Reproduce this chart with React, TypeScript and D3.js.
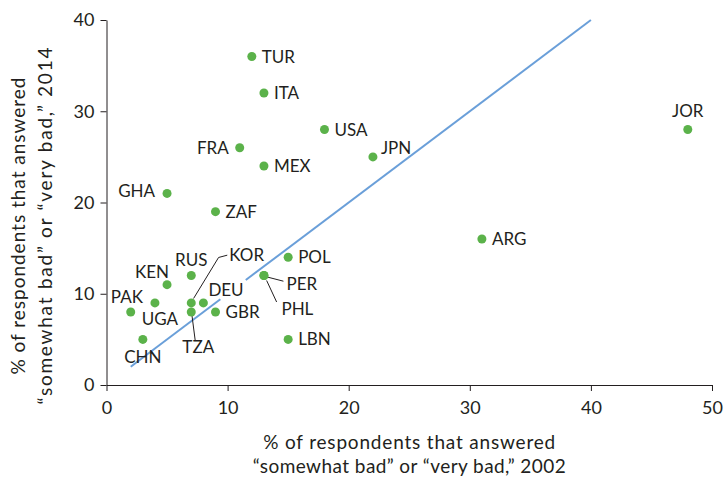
import { useRef, useEffect } from 'react';
import * as d3 from 'd3';

// share answering "somewhat bad" or "very bad" (%)
const COUNTRIES = ['TUR', 'ITA', 'USA', 'FRA', 'JPN', 'MEX', 'GHA', 'ZAF', 'JOR', 'ARG', 'POL', 'LBN', 'CHN', 'UGA', 'PAK', 'KEN', 'RUS', 'KOR', 'DEU', 'TZA', 'GBR', 'PER', 'PHL'];
const Y2002 = [12, 13, 18, 11, 22, 13, 5, 9, 48, 31, 15, 15, 3, 2, 4, 5, 7, 7, 8, 7, 9, 13, 13];
const Y2014 = [36, 32, 28, 26, 25, 24, 21, 19, 28, 16, 14, 5, 5, 8, 9, 11, 12, 9, 9, 8, 8, 12, 12];

const X_TICKS = [0, 10, 20, 30, 40, 50];
const Y_TICKS = [0, 10, 20, 30, 40];

// 45-degree reference line, broken where labels sit
const REF_SEGMENTS: [number, number][] = [[2, 9.4], [11.5, 40]];

const X_TITLE = ['% of respondents that answered', '“somewhat bad” or “very bad,” 2002'];
const Y_TITLE = ['% of respondents that answered', '“somewhat bad” or “very bad,” 2014'];

// label placement (pixel offsets from the dot) and optional leader lines
const LABEL_POS: Record<string, { dx: number; dy: number; anchor: string; leader?: [number, number][] }> = {
  TUR: { dx: 10, dy: 0, anchor: 'start' },
  ITA: { dx: 10, dy: 0, anchor: 'start' },
  USA: { dx: 10, dy: 0, anchor: 'start' },
  FRA: { dx: -11, dy: 0, anchor: 'end' },
  JPN: { dx: 8, dy: -9, anchor: 'start' },
  MEX: { dx: 10, dy: 0, anchor: 'start' },
  GHA: { dx: -12, dy: -2, anchor: 'end' },
  ZAF: { dx: 10, dy: 0, anchor: 'start' },
  JOR: { dx: 0, dy: -19, anchor: 'middle' },
  ARG: { dx: 10, dy: 0, anchor: 'start' },
  POL: { dx: 10, dy: 0, anchor: 'start' },
  LBN: { dx: 10, dy: 0, anchor: 'start' },
  CHN: { dx: 0, dy: 18, anchor: 'middle' },
  UGA: { dx: 11, dy: 7, anchor: 'start' },
  PAK: { dx: -12, dy: -6, anchor: 'end' },
  KEN: { dx: 2, dy: -13, anchor: 'end' },
  RUS: { dx: 0, dy: -16, anchor: 'middle' },
  KOR: { dx: 38, dy: -48, anchor: 'start', leader: [[2.3, -4.4], [27.3, -45.4], [36, -47.7]] },
  DEU: { dx: 5, dy: -13, anchor: 'start' },
  TZA: { dx: 7, dy: 35, anchor: 'middle', leader: [[0.7, 3.5], [4, 29]] },
  GBR: { dx: 10, dy: 0, anchor: 'start' },
  PER: { dx: 22.5, dy: 8.5, anchor: 'start', leader: [[4, 1.7], [19.5, 5.7]] },
  PHL: { dx: 17.5, dy: 33.5, anchor: 'start', leader: [[2.7, 5], [12.7, 26.5]] },
};

const WIDTH = 726;
const HEIGHT = 478;
const FONT = 'Lato, "DejaVu Sans", sans-serif';
const INK = '#231f20';

export default function App() {
  const svgRef = useRef<SVGSVGElement>(null);

  useEffect(() => {
    if (!svgRef.current) return;
    const svg = d3.select(svgRef.current);
    svg.selectAll('*').remove();

    const x = d3.scaleLinear().domain([0, 50]).range([106.5, 712]);
    const y = d3.scaleLinear().domain([0, 40]).range([385, 20]);

    // x axis
    const xAxis = svg
      .append('g')
      .attr('transform', `translate(0,${y(0)})`)
      .call(d3.axisBottom(x).tickValues(X_TICKS).tickSize(6).tickPadding(10).tickSizeOuter(0));
    xAxis.selectAll('text').attr('font-size', '18px');

    // y axis
    const yAxis = svg
      .append('g')
      .attr('transform', `translate(${x(0)},0)`)
      .call(d3.axisLeft(y).tickValues(Y_TICKS).tickSize(6).tickPadding(6).tickSizeOuter(0));
    yAxis.selectAll('text').attr('font-size', '18px');

    svg.selectAll('.domain, .tick line').attr('stroke', INK).attr('stroke-width', 1);
    svg.selectAll('.tick text').attr('fill', INK).attr('font-family', FONT);

    // reference line
    svg
      .append('g')
      .selectAll('line')
      .data(REF_SEGMENTS)
      .join('line')
      .attr('x1', (d) => x(d[0]))
      .attr('y1', (d) => y(d[0]))
      .attr('x2', (d) => x(d[1]))
      .attr('y2', (d) => y(d[1]))
      .attr('stroke', '#6a9fd9')
      .attr('stroke-width', 2);

    const pts = COUNTRIES.map((c, i) => ({ c, px: x(Y2002[i]), py: y(Y2014[i]) }));

    // leader lines
    const leader = d3.line<[number, number]>();
    svg
      .append('g')
      .selectAll('path')
      .data(pts.filter((p) => LABEL_POS[p.c].leader))
      .join('path')
      .attr('d', (p) => leader(LABEL_POS[p.c].leader!.map(([a, b]) => [p.px + a, p.py + b] as [number, number])))
      .attr('fill', 'none')
      .attr('stroke', INK)
      .attr('stroke-width', 1);

    // dots
    svg
      .append('g')
      .selectAll('circle')
      .data(pts)
      .join('circle')
      .attr('cx', (p) => p.px)
      .attr('cy', (p) => p.py)
      .attr('r', 4.5)
      .attr('fill', '#5bb24a');

    // labels
    svg
      .append('g')
      .selectAll('text')
      .data(pts)
      .join('text')
      .attr('x', (p) => p.px + LABEL_POS[p.c].dx)
      .attr('y', (p) => p.py + LABEL_POS[p.c].dy)
      .attr('dy', '0.36em')
      .attr('text-anchor', (p) => LABEL_POS[p.c].anchor)
      .attr('font-family', FONT)
      .attr('font-size', '17px')
      .attr('fill', INK)
      .text((p) => p.c);

    // axis titles
    const xMid = (x(0) + x(50)) / 2;
    const xTitle = svg
      .append('text')
      .attr('font-family', FONT)
      .attr('font-size', '19px')
      .attr('fill', INK);
    [292, 313].forEach((len, i) => {
      xTitle
        .append('tspan')
        .attr('x', xMid - len / 2)
        .attr('y', 449 + i * 24)
        .attr('textLength', len)
        .attr('lengthAdjust', 'spacing')
        .text(X_TITLE[i]);
    });

    const yTitle = svg
      .append('text')
      .attr('transform', 'translate(0,226) rotate(-90)')
      .attr('font-family', FONT)
      .attr('font-size', '19px')
      .attr('fill', INK);
    [297, 357].forEach((len, i) => {
      yTitle
        .append('tspan')
        .attr('x', -len / 2)
        .attr('y', 25 + i * 27)
        .attr('textLength', len)
        .attr('lengthAdjust', 'spacing')
        .text(Y_TITLE[i]);
    });
  }, []);

  return (
    <svg
      ref={svgRef}
      width={WIDTH}
      height={HEIGHT}
      style={{ position: 'absolute', left: 0, top: 0, background: '#fff' }}
    />
  );
}
